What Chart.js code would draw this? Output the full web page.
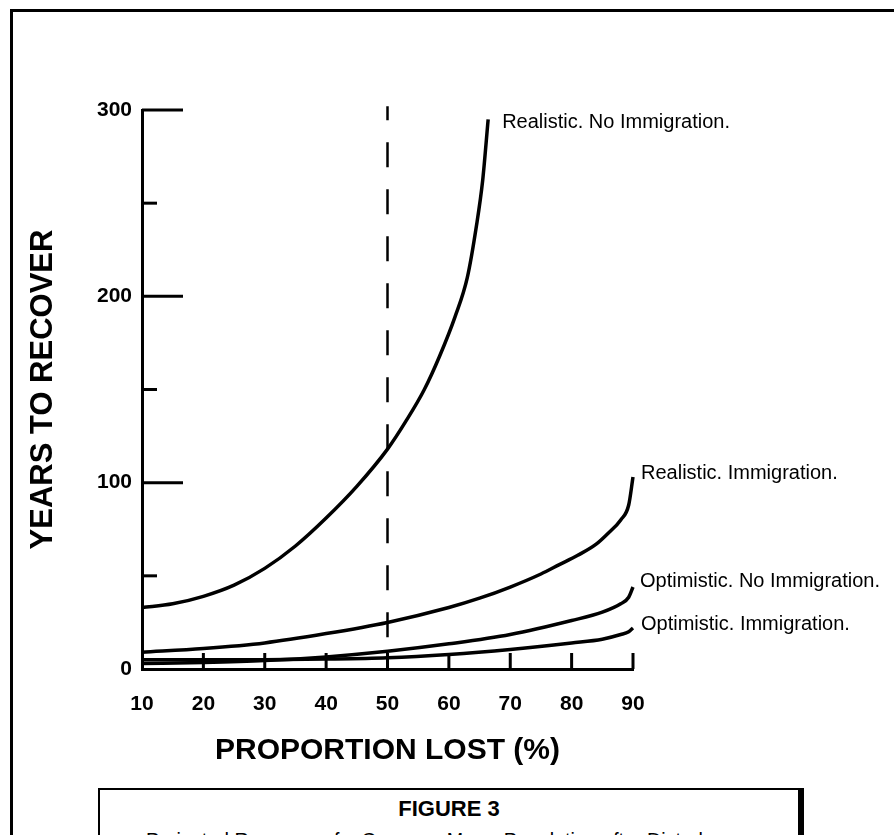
<!DOCTYPE html>
<html>
<head>
<meta charset="utf-8">
<script src="https://cdn.jsdelivr.net/npm/chart.js@4.4.0/dist/chart.umd.min.js"></script>
<style>
  body { margin: 0; background: #fff; }
  #wrap { position: relative; width: 894px; height: 835px; overflow: hidden; background: #fff; }
  #frame { position: absolute; left: 10px; top: 9px; width: 960px; height: 900px;
           border-left: 3px solid #000; border-top: 3px solid #000; }
  #chart { position: absolute; left: 0; top: 0; }
  #caption { position: absolute; left: 98px; top: 788px; width: 698px; height: 120px;
             border: 2px solid #000; border-right: 6px solid #000; background: #fff;
             text-align: center; color: #000; }
  #caption .fig { margin-top: 8px; font: bold 22px 'Liberation Sans Narrow', 'Liberation Sans', Arial, sans-serif; line-height: 22px; }
  #caption .sub { margin-top: 9px; font: 19.7px 'Liberation Sans', Arial, sans-serif; line-height: 22px; }
</style>
</head>
<body>
<div id="wrap">
  <div id="frame"></div>
  <canvas id="chart" width="894" height="835"></canvas>
  <div id="caption">
    <div class="fig">FIGURE 3</div>
    <div class="sub">Projected Recovery of a Common Murre Population after Disturbance</div>
  </div>
</div>
<script>
// Datos
var seriesNames = ['Realistic. No Immigration.', 'Realistic. Immigration.',
                   'Optimistic. No Immigration.', 'Optimistic. Immigration.'];

var realNoImmX = [10, 15, 20, 25, 30, 35, 40, 45, 50, 53, 56, 58.5, 61, 63, 64.5, 65.5, 66.4];
var realNoImmY = [33, 35, 39, 45, 54, 66, 81, 98, 118, 133, 150, 168, 189, 210, 238, 262, 295];

var realImmX = [10, 20, 30, 40, 50, 60, 65, 70, 75, 78, 81, 84, 86, 88, 89.3, 90];
var realImmY = [9, 11, 14, 19, 25, 33, 38, 44, 51, 56, 61, 67, 73, 80, 88, 103];

var optNoImmX = [10, 20, 30, 40, 50, 60, 70, 80, 85, 88, 89.3, 90];
var optNoImmY = [3, 3.5, 4.5, 6.5, 9.5, 13.5, 18.5, 26, 30.5, 35, 38.5, 44];

var optImmX = [10, 20, 30, 40, 50, 60, 70, 80, 85, 88, 89.3, 90];
var optImmY = [5, 5, 5, 5.3, 6, 7.8, 10.5, 14, 16, 18.5, 20, 22];

var markerX = [50, 50];       // línea discontinua en 50 %
var markerY = [302, 12];

var xTickValues = [10, 20, 30, 40, 50, 60, 70, 80, 90];
var yTickValues = [50, 100, 150, 200, 250, 300];
var yTickLabels = [0, 100, 200, 300];

var FONT = "'Liberation Sans', Arial, Helvetica, sans-serif";
var labelDx = [14, 8, 7, 8];   // separación del texto respecto al final de la curva
var labelDy = [3, -4, -6, -4];

function pares(xs, ys) {
    return xs.map(function (x, i) { return { x: x, y: ys[i] }; });
}

function curva(nombre, xs, ys) {
    return {
        label: nombre,
        data: pares(xs, ys),
        borderColor: '#000',
        borderWidth: 3.5,
        pointRadius: 0,
        fill: false,
        cubicInterpolationMode: 'monotone',
        clip: false
    };
}

// marcas del eje y etiquetas de cada curva
var decoracion = {
    id: 'decoracion',
    afterDatasetsDraw: function (chart) {
        var ctx = chart.ctx;
        var x = chart.scales.x, y = chart.scales.y;
        ctx.save();
        ctx.strokeStyle = '#000';
        ctx.lineWidth = 3;
        yTickValues.forEach(function (v) {
            var py = y.getPixelForValue(v);
            var largo = v % 100 === 0 ? 41 : 15;
            ctx.beginPath();
            ctx.moveTo(x.left, py);
            ctx.lineTo(x.left + largo, py);
            ctx.stroke();
        });
        xTickValues.slice(1).forEach(function (v) {
            var px = x.getPixelForValue(v);
            ctx.beginPath();
            ctx.moveTo(px, y.bottom);
            ctx.lineTo(px, y.bottom - 16);
            ctx.stroke();
        });
        ctx.fillStyle = '#000';
        ctx.font = '20px ' + FONT;
        ctx.textBaseline = 'middle';
        ctx.textAlign = 'left';
        chart.data.datasets.forEach(function (ds, i) {
            if (i >= seriesNames.length) return;
            var ultimo = ds.data[ds.data.length - 1];
            var px = x.getPixelForValue(ultimo.x);
            var py = y.getPixelForValue(ultimo.y);
            ctx.fillText(ds.label, px + labelDx[i], py + labelDy[i]);
        });
        ctx.restore();
    }
};

var ctx = document.getElementById('chart').getContext('2d');
var grafico = new Chart(ctx, {
    type: 'line',
    data: {
        datasets: [
            curva(seriesNames[0], realNoImmX, realNoImmY),
            curva(seriesNames[1], realImmX, realImmY),
            curva(seriesNames[2], optNoImmX, optNoImmY),
            curva(seriesNames[3], optImmX, optImmY),
            {
                label: 'marca',
                data: pares(markerX, markerY),
                borderColor: '#000',
                borderWidth: 2.5,
                borderDash: [25, 22],
                borderDashOffset: 11,
                pointRadius: 0,
                clip: false
            }
        ]
    },
    options: {
        responsive: false,
        animation: false,
        layout: { padding: { left: 0, top: 110, right: 261, bottom: 60 } },
        plugins: { legend: { display: false }, tooltip: { enabled: false } },
        scales: {
            x: {
                type: 'linear',
                min: 10,
                max: 90,
                afterBuildTicks: function (s) {
                    s.ticks = xTickValues.map(function (v) { return { value: v }; });
                },
                ticks: {
                    color: '#000',
                    padding: 23,
                    maxRotation: 0,
                    autoSkip: false,
                    font: { family: FONT, size: 21, weight: 'bold' }
                },
                grid: { display: false, drawTicks: false },
                border: { display: true, color: '#000', width: 3 },
                title: {
                    display: true,
                    text: 'PROPORTION LOST (%)',
                    color: '#000',
                    font: { family: FONT, size: 30, weight: 'bold' },
                    padding: { top: 0, bottom: 6 }
                },
                afterFit: function (s) { s.height = 106; }
            },
            y: {
                min: 0,
                max: 300,
                afterBuildTicks: function (s) {
                    s.ticks = yTickLabels.map(function (v) { return { value: v }; });
                },
                ticks: {
                    color: '#000',
                    padding: 10,
                    autoSkip: false,
                    font: { family: FONT, size: 21, weight: 'bold' }
                },
                grid: { display: false, drawTicks: false },
                border: { display: true, color: '#000', width: 3 },
                title: {
                    display: true,
                    text: 'YEARS TO RECOVER',
                    color: '#000',
                    font: { family: FONT, size: 31, weight: 'bold' },
                    padding: { top: 25, bottom: 0 }
                },
                afterFit: function (s) { s.width = 142; }
            }
        }
    },
    plugins: [decoracion]
});
</script>
</body>
</html>
